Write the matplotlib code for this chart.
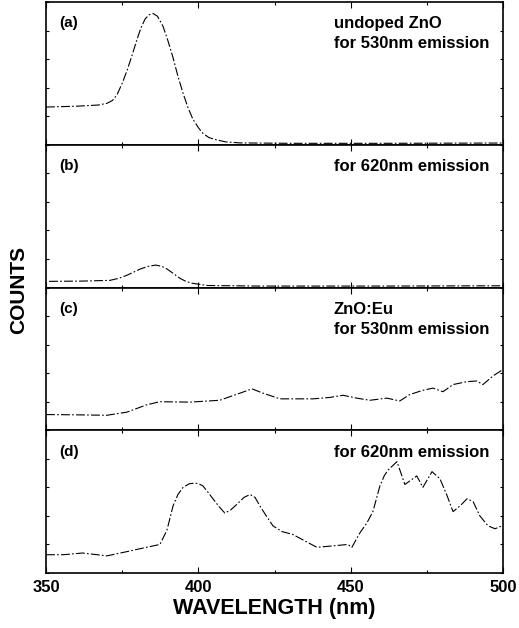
import numpy as np
import matplotlib.pyplot as plt
from matplotlib.ticker import MultipleLocator, NullFormatter

plt.rcParams['font.family'] = ['Liberation Sans', 'DejaVu Sans']
plt.rcParams['font.weight'] = 'bold'

# (a) undoped ZnO, 530nm emission
wl_a = [350, 360, 367, 370, 371.8, 373.3, 375, 376.6, 378.3, 379.9, 381.2,
        382.5, 383.8, 385.1, 386.6, 388.4, 390, 391.7, 393.3, 395, 396.6,
        398.2, 400, 401.5, 403.5, 406, 409, 413.7, 430, 460, 500]
cnt_a = [0.264, 0.27, 0.278, 0.29, 0.31, 0.35, 0.43, 0.52, 0.63, 0.74, 0.82,
         0.88, 0.91, 0.92, 0.9, 0.83, 0.73, 0.61, 0.48, 0.36, 0.26,
         0.18, 0.12, 0.08, 0.05, 0.034, 0.02, 0.013, 0.01, 0.01, 0.012]

# (b) undoped ZnO, 620nm emission
wl_b = [351, 362, 371, 374, 376.6, 379, 381, 383.5, 386, 388, 389.7, 392,
        394, 396, 398.2, 403, 420, 460, 500]
cnt_b = [0.043, 0.045, 0.05, 0.065, 0.086, 0.11, 0.13, 0.148, 0.157, 0.148,
         0.13, 0.095, 0.064, 0.042, 0.029, 0.014, 0.01, 0.01, 0.012]

# (c) ZnO:Eu, 530nm emission
wl_c = [350, 360, 370, 376.6, 383, 387.4, 397.3, 407, 413.7, 417.6, 421.2,
        426.8, 437.7, 443.2, 447.5, 452, 456.3, 461.9, 466.1, 469.4, 473.7,
        477, 480.3, 483.6, 488, 491.4, 493.4, 496.7, 499.6]
cnt_c = [0.11, 0.108, 0.105, 0.127, 0.178, 0.2, 0.197, 0.21, 0.26, 0.29, 0.26,
         0.22, 0.22, 0.23, 0.245, 0.225, 0.21, 0.225, 0.205, 0.25, 0.28,
         0.295, 0.27, 0.32, 0.34, 0.345, 0.32, 0.38, 0.42]

# (d) ZnO:Eu, 620nm emission
wl_d = [350, 355.6, 362, 370, 376.6, 383, 387.4, 389.7, 391.7, 393.3, 395,
        397, 398.9, 400.2, 401.5, 403, 404.8, 406.8, 408.7, 410.5, 412.6,
        415, 417, 418.6, 420.2, 422.3, 424.5, 427.5, 431, 438.9, 444.2,
        449.1, 450.4, 453, 455.3, 457.3, 459.6, 461, 462.2, 465.2, 467.8,
        471.7, 473.7, 476.7, 479.3, 481.5, 483.6, 485.9, 488.2, 490.2, 492.4,
        495.1, 497.4, 499.6]
cnt_d = [0.128, 0.128, 0.14, 0.12, 0.15, 0.18, 0.2, 0.3, 0.47, 0.55, 0.6,
         0.625, 0.63, 0.625, 0.61, 0.57, 0.52, 0.465, 0.42, 0.44, 0.48,
         0.53, 0.55, 0.53, 0.47, 0.4, 0.33, 0.29, 0.27, 0.18, 0.19,
         0.2, 0.18, 0.28, 0.35, 0.43, 0.61, 0.68, 0.72, 0.78, 0.62,
         0.68, 0.60, 0.71, 0.66, 0.55, 0.43, 0.47, 0.52, 0.50, 0.40,
         0.33, 0.31, 0.33]

panel_tags = ['(a)', '(b)', '(c)', '(d)']
panel_notes = ['undoped ZnO\nfor 530nm emission', 'for 620nm emission',
               'ZnO:Eu\nfor 530nm emission', 'for 620nm emission']
series = [(wl_a, cnt_a), (wl_b, cnt_b), (wl_c, cnt_c), (wl_d, cnt_d)]

fig = plt.figure(figsize=(5.19, 6.28), dpi=100)
left, right = 46 / 519, 503 / 519
bottom, top = 1 - 573 / 628, 1 - 2 / 628
h = (top - bottom) / 4

for i, ((x, y), tag, note) in enumerate(zip(series, panel_tags, panel_notes)):
    ax = fig.add_axes([left, top - (i + 1) * h, right - left, h])
    ax.plot(x, y, color='black', lw=0.8, ls=(0, (8, 2, 1.5, 2)))
    ax.set_xlim(350, 500)
    ax.set_ylim(0, 1)
    ax.xaxis.set_major_locator(MultipleLocator(50))
    ax.xaxis.set_minor_locator(MultipleLocator(25))
    ax.yaxis.set_major_locator(MultipleLocator(0.2))
    ax.yaxis.set_major_formatter(NullFormatter())
    ax.tick_params(which='both', direction='in', top=True, right=True,
                   width=0.8)
    ax.tick_params(which='major', length=4)
    ax.tick_params(which='minor', length=2.5)
    ax.tick_params(axis='y', length=2)
    for s in ax.spines.values():
        s.set_linewidth(1.2)
    if i < 3:
        ax.xaxis.set_major_formatter(NullFormatter())
    else:
        ax.tick_params(axis='x', labelsize=12, pad=5)
        for lab in ax.get_xticklabels():
            lab.set_fontweight('bold')
        ax.set_xlabel('WAVELENGTH (nm)', fontsize=15.5, fontweight='bold',
                      labelpad=2)
    ax.text(0.03, 0.90, tag, transform=ax.transAxes, fontsize=11,
            fontweight='bold', va='top', ha='left')
    ax.text(0.63, 0.90, note, transform=ax.transAxes, fontsize=12,
            fontweight='bold', va='top', ha='left', linespacing=1.4)

fig.text(0.036, 1 - 290 / 628, 'COUNTS', rotation=90, fontsize=15,
         fontweight='bold', va='center', ha='center')

fig.savefig('out.png', dpi=100)
